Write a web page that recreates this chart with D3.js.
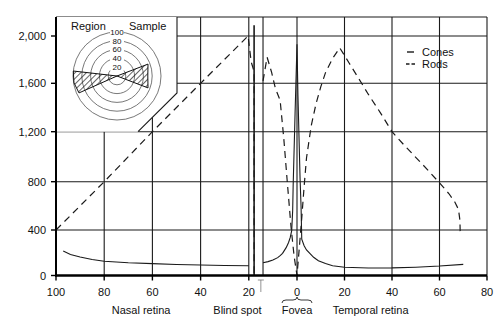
<!DOCTYPE html>
<html><head><meta charset="utf-8">
<script src="https://cdn.jsdelivr.net/npm/d3@7/dist/d3.min.js"></script>
<style>
body{margin:0;background:#fff;}
text{font-family:"Liberation Sans",Arial,sans-serif;fill:#111;}
</style></head>
<body><svg id="c" width="500" height="332"></svg>
<script>
// ---- data ----
const xTicks = [-100,-80,-60,-40,-20,0,20,40,60,80];
const yTicks = [0,400,800,1200,1600,2000];
const yTickLabels = ["0","400","800","1,200","1,600","2,000"];
const conesNasal = [[-97,215],[-94,185],[-90,162],[-85,140],[-80,125],[-70,112],[-60,104],[-50,97],[-40,92],[-30,88],[-20,86]];
const conesTemporal = [[-14.1,112],[-12,122],[-10,136],[-8,157],[-7,175],[-6,195],[-4.5,245],[-3.5,290],[-2.8,335],[-2.2,395],[-1.8,560],[-1.6,760],[-0.8,1350],[0,1930],[0.4,1500],[1.3,820],[1.7,600],[2,320],[3,262],[4,225],[5.5,192],[7,160],[9,130],[12,105],[15,86],[20,72],[30,66],[40,67],[50,73],[60,83],[70,98]];
const rodsNasal = [[-100,400],[-80,800],[-60,1200],[-40,1600],[-20.3,2000],[-19,1780],[-17.8,1700],[-17.8,0]];
const rodsTemporal = [[-14.1,1620],[-12.4,1820],[-10.5,1690],[-9,1560],[-7,1460],[-5.5,1150],[-4,790],[-2.5,430],[-1.2,170],[0,0],[1,250],[2,500],[3,760],[4,990],[6,1250],[8,1430],[10,1570],[12,1690],[15,1810],[18,1900],[22,1770],[26,1640],[30,1510],[35,1360],[40,1200],[45,1095],[50,995],[55,895],[60,790],[64,700],[66.5,630],[68,570],[68.6,480],[68.7,390]];
const blindSpotEdges = [-17.8,-14.1];
const blindSpotTops = [2090,2160];
const polarRings = [20,40,60,80,100];
const regionWedge = [[0,0],[173.5,100],[189,99],[204,94.5]];
const sampleWedge = [[0,0],[21,75.5],[0,70],[-21,75.5]];
const bottomLabels = [["Nasal retina",-64.7],["Blind spot",-24.7],["Fovea",0],["Temporal retina",31]];

// ---- scales ----
const svg = d3.select("#c");
const x = d3.scaleLinear().domain([-100,0,80]).range([56,297,487]);
const y = d3.scaleLinear().domain([0,400,800,1200,1600,2000,2160]).range([275.5,230,181.7,131.7,83.3,36,17]);
const L = 56, R = 487, T = 17, B = 275.5;
const ink = "#1a1a1a";

// grid
svg.append("g").selectAll("line").data(xTicks.filter(d=>d>-100&&d<80)).join("line")
  .attr("x1",d=>x(d)).attr("x2",d=>x(d)).attr("y1",T).attr("y2",B)
  .attr("stroke",ink).attr("stroke-width",1.1);
svg.append("g").selectAll("line").data(yTicks.filter(d=>d>0)).join("line")
  .attr("x1",L).attr("x2",R).attr("y1",d=>y(d)).attr("y2",d=>y(d))
  .attr("stroke",ink).attr("stroke-width",1.1);
// frame top & right
svg.append("line").attr("x1",L).attr("x2",R).attr("y1",T).attr("y2",T).attr("stroke",ink).attr("stroke-width",1.1);
svg.append("line").attr("x1",R).attr("x2",R).attr("y1",T).attr("y2",B).attr("stroke",ink).attr("stroke-width",1.1);

// blind spot edges
svg.append("g").selectAll("line").data(blindSpotEdges).join("line")
  .attr("x1",d=>x(d)).attr("x2",d=>x(d)).attr("y1",(d,i)=>y(blindSpotTops[i])).attr("y2",B)
  .attr("stroke",ink).attr("stroke-width",(d,i)=>i===0?1.6:1.1);

// curves
const line = d3.line().x(d=>x(d[0])).y(d=>y(d[1]));
[conesNasal,conesTemporal].forEach(s=>svg.append("path").attr("d",line(s)).attr("fill","none").attr("stroke",ink).attr("stroke-width",1.1));
[rodsNasal,rodsTemporal].forEach(s=>svg.append("path").attr("d",line(s)).attr("fill","none").attr("stroke",ink).attr("stroke-width",1.2).attr("stroke-dasharray","7,5"));

// inset
const inset = svg.append("g");
inset.append("path").attr("d",`M${L},${T}H177V93L138,${y(1200)}H${L}Z`).attr("fill","#fff").attr("stroke","none");
inset.append("path").attr("d",`M177,${T}V93L138,${y(1200)}`).attr("fill","none").attr("stroke",ink).attr("stroke-width",1.1);
const cx = 117, cy = 76;
const r = d3.scaleLinear().domain([0,100]).range([0,44]);
inset.append("g").selectAll("circle").data(polarRings).join("circle")
  .attr("cx",cx).attr("cy",cy).attr("r",d=>r(d)).attr("fill","none").attr("stroke","#555").attr("stroke-width",0.8);
const defs = svg.append("defs");
defs.append("pattern").attr("id","hatch").attr("patternUnits","userSpaceOnUse").attr("width",4).attr("height",4)
  .attr("patternTransform","rotate(45)")
  .append("line").attr("x1",0).attr("y1",0).attr("x2",0).attr("y2",4).attr("stroke","#111").attr("stroke-width",1.3);
const polar = d=>[cx+r(d[1])*Math.cos(d[0]*Math.PI/180), cy-r(d[1])*Math.sin(d[0]*Math.PI/180)];
[regionWedge,sampleWedge].forEach(w=>inset.append("path").attr("d","M"+w.map(polar).map(p=>p.join(",")).join("L")+"Z")
  .attr("fill","url(#hatch)").attr("stroke","#111").attr("stroke-width",1));
const rl = inset.append("g").selectAll("g").data(polarRings).join("g");
rl.append("rect").attr("x",cx-7).attr("y",d=>cy-r(d)-3.5).attr("width",14).attr("height",7).attr("fill","#fff");
rl.append("text").attr("x",cx).attr("y",d=>cy-r(d)+2.8).attr("text-anchor","middle").attr("font-size",8).text(d=>d);
inset.append("text").attr("x",71).attr("y",30).attr("font-size",11).text("Region");
inset.append("text").attr("x",129).attr("y",30).attr("font-size",11).text("Sample");

// axes
svg.append("line").attr("x1",L).attr("x2",L).attr("y1",T).attr("y2",B+1).attr("stroke","#000").attr("stroke-width",2);
svg.append("line").attr("x1",L-1).attr("x2",R).attr("y1",B).attr("y2",B).attr("stroke","#000").attr("stroke-width",2.4);
const ya = svg.append("g").selectAll("g").data(yTicks).join("g");
ya.append("line").attr("x1",L-5).attr("x2",L).attr("y1",d=>y(d)).attr("y2",d=>y(d)).attr("stroke","#000").attr("stroke-width",1.4);
ya.append("text").attr("x",46).attr("y",d=>y(d)+4).attr("text-anchor","end").attr("font-size",11).text((d,i)=>yTickLabels[i]);
const xa = svg.append("g").selectAll("g").data(xTicks).join("g");
xa.append("line").attr("x1",d=>x(d)).attr("x2",d=>x(d)).attr("y1",B).attr("y2",B+5).attr("stroke","#000").attr("stroke-width",1.4);
xa.append("text").attr("x",d=>x(d)).attr("y",296).attr("text-anchor","middle").attr("font-size",11).text(d=>Math.abs(d));

// bottom labels
svg.append("g").selectAll("text").data(bottomLabels).join("text")
  .attr("x",d=>x(d[1])).attr("y",314).attr("text-anchor","middle").attr("font-size",11).text(d=>d[0]);
// blind spot marker
svg.append("path").attr("d",`M${x(-15)-3},280H${x(-15)+3}M${x(-15)},280V292`).attr("fill","none").attr("stroke","#777").attr("stroke-width",0.8);
// fovea brace
const fx = x(0);
svg.append("path").attr("d",`M${fx-15},303Q${fx-15},300 ${fx-11},300L${fx-4},300Q${fx},300 ${fx},297Q${fx},300 ${fx+4},300L${fx+11},300Q${fx+15},300 ${fx+15},303`)
  .attr("fill","none").attr("stroke","#222").attr("stroke-width",0.9);

// legend
svg.append("line").attr("x1",407).attr("x2",414).attr("y1",52).attr("y2",52).attr("stroke",ink).attr("stroke-width",1.4);
svg.append("line").attr("x1",406).attr("x2",415).attr("y1",64).attr("y2",64).attr("stroke",ink).attr("stroke-width",1.4).attr("stroke-dasharray","3.5,2");
svg.append("text").attr("x",422).attr("y",56).attr("font-size",11).text("Cones");
svg.append("text").attr("x",422).attr("y",68).attr("font-size",11).text("Rods");
</script></body></html>
